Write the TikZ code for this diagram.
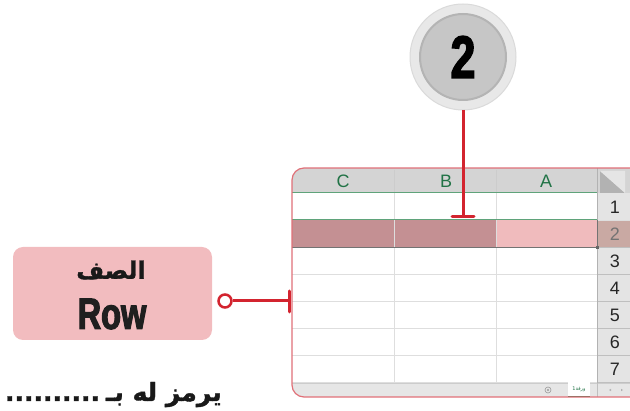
\documentclass[tikz,border=0pt]{standalone}
\usepackage{fontspec}
\setmainfont{Liberation Sans}
\newfontfamily\arabicfont[Script=Arabic]{DejaVu Sans}
\newfontface\arabicheavy[Script=Arabic, FakeBold=1.5]{DejaVu Sans Bold}
\newfontface\heavyfont[FakeBold=2.5, FakeStretch=0.74]{Liberation Sans Bold}
\TeXXeTstate=1
\definecolor{ringgray}{HTML}{E8E8E8}
\definecolor{ringedge}{HTML}{DADADA}
\definecolor{innergray}{HTML}{C6C6C6}
\definecolor{inneredge}{HTML}{B4B4B4}
\definecolor{pinred}{HTML}{D3242F}
\definecolor{sheetborder}{HTML}{E07078}
\definecolor{headgray}{HTML}{D4D4D4}
\definecolor{rowheadgray}{HTML}{E4E4E4}
\definecolor{gridgray}{HTML}{DEDEDE}
\definecolor{xlgreen}{HTML}{217346}
\definecolor{selgreen}{HTML}{5FA37A}
\definecolor{seldark}{HTML}{C49093}
\definecolor{sellight}{HTML}{F0BBBD}
\definecolor{selhead}{HTML}{C9A9A3}
\definecolor{boxpink}{HTML}{F2BCBF}
\definecolor{bargray}{HTML}{E6E6E6}
\tikzset{
  collabel/.style={text=xlgreen, font=\fontsize{18}{18}\selectfont, inner sep=0},
  rowlabel/.style={text=black!85, font=\fontsize{18}{18}\selectfont, inner sep=0},
  pinline/.style={draw=pinred, line width=3pt},
  sheetshape/.style={rounded corners=12pt},
}
\begin{document}
\begin{tikzpicture}[x=1pt,y=-1pt]
\useasboundingbox (0,0) rectangle (630,411);
% badge
\node[circle, fill=ringgray, draw=ringedge, line width=1pt, minimum size=106pt, inner sep=0] (ring) at (463,57) {};
\node[circle, fill=innergray, draw=inneredge, line width=2pt, minimum size=86pt, inner sep=0] (badge) at (463,57)
  {\fontsize{60}{60}\heavyfont 2};
% sheet outline and fill
\fill[white, sheetshape] (640,168) -- (292,168) -- (292,397) -- (640,397) -- cycle;
\begin{scope}
\clip[sheetshape] (640,168) -- (292,168) -- (292,397) -- (640,397) -- cycle;
% header
\fill[headgray] (292,168) rectangle (630,193);
\fill[rowheadgray] (597,193) rectangle (630,383);
\fill[black!30] (600,171) -- (625,193) -- (600,193) -- cycle;
\fill[headgray!60!white] (600,171) -- (625,171) -- (625,193) -- cycle;
% selected row
\fill[seldark] (292,220) rectangle (496,247);
\fill[sellight] (496,220) rectangle (597,247);
\fill[selhead] (597,220) rectangle (630,247);
% grid
\foreach \y in {274,301,328,355,382} \draw[gridgray, line width=0.8pt] (292,\y) -- (630,\y);
\foreach \y in {247,274,301,328,355,382} \draw[black!25, line width=0.8pt] (597,\y) -- (630,\y);
\draw[gridgray, line width=0.8pt] (597,220) -- (630,220);
\foreach \x in {394,496} \draw[gridgray, line width=0.8pt] (\x,193) -- (\x,383);
\foreach \x in {394,496} \draw[black!20, line width=0.8pt] (\x,170) -- (\x,193);
\draw[black!30, line width=0.8pt] (597,168) -- (597,383);
\draw[selgreen, line width=1pt] (292,193) -- (597,193);
\draw[selgreen, line width=1pt] (292,220) -- (597,220);
\draw[black!55, line width=0.8pt] (292,247) -- (597,247);
\draw[black!55, line width=0.8pt] (597,220) -- (597,247);
\fill[black!60] (596,246) rectangle (599,249);
% bottom bar
\fill[bargray] (292,383) rectangle (640,397);
\draw[black!20, line width=0.6pt] (292,383) -- (630,383);
\fill[white] (568,382) rectangle (590,396);
\draw[xlgreen, line width=0.8pt] (568,396) -- (590,396);
\node[text=xlgreen, font=\arabicfont\fontsize{5}{5}\selectfont, inner sep=0] (tab) at (579,389) {\beginR ورقة1\endR};
\node[circle, draw=black!40, line width=0.6pt, minimum size=6pt, inner sep=0] (addsheet) at (548,390) {};
\fill[black!40] (addsheet.center) circle (1.2pt);
\fill[black!30] (609,390) -- (611,388.8) -- (611,391.2) -- cycle;
\fill[black!30] (623,390) -- (621,388.8) -- (621,391.2) -- cycle;
\draw[black!25, line width=0.6pt] (597,383) -- (597,397);
\end{scope}
\draw[sheetborder, line width=1.2pt, sheetshape] (640,168) -- (292,168) -- (292,397) -- (640,397);
% column labels
\node[collabel] (colC) at (343,181) {C};
\node[collabel] (colB) at (446,181) {B};
\node[collabel] (colA) at (546,181) {A};
% row labels
\foreach \r/\y in {1/207,3/261,4/288,5/315,6/342,7/369}
  \node[rowlabel] (row\r) at (615,\y) {\r};
\node[rowlabel, text=black!55] (row2) at (615,234) {2};
% pointer from badge
\coordinate (pintop) at (463,110);
\coordinate (pinend) at (463,217);
\draw[pinline] (pintop) -- (pinend);
\draw[pinred, line width=3pt, line cap=round] (452,217) -- (474,217);
% left label box
\node[fill=boxpink, rounded corners=10pt, minimum width=199pt, minimum height=93pt, inner sep=0] (rowbox) at (112.5,293.5) {};
\node[font=\arabicheavy\fontsize{24}{24}\selectfont, inner sep=0, text=black!90] (arlabel) at (111,270) {\beginR الصف\endR};
\node[font=\fontsize{44}{44}\heavyfont, inner sep=0, text=black!88] (enlabel) at (112,314) {Row};
% connector
\node[circle, draw=pinred, fill=white, line width=2.5pt, minimum size=13pt, inner sep=0] (knob) at (225,301) {};
\coordinate (sheetpin) at (289,301);
\draw[pinline] (knob) -- (sheetpin);
\draw[pinred, line width=3pt, line cap=round] (289,291) -- (289,312);
% bottom text
\node[anchor=base east, font=\arabicheavy\fontsize{25}{25}\selectfont, inner sep=0, text=black!90] (hint) at (222,401)
  {..........\hspace{6pt}\beginR يرمز له بـ\endR};
\end{tikzpicture}
\end{document}
